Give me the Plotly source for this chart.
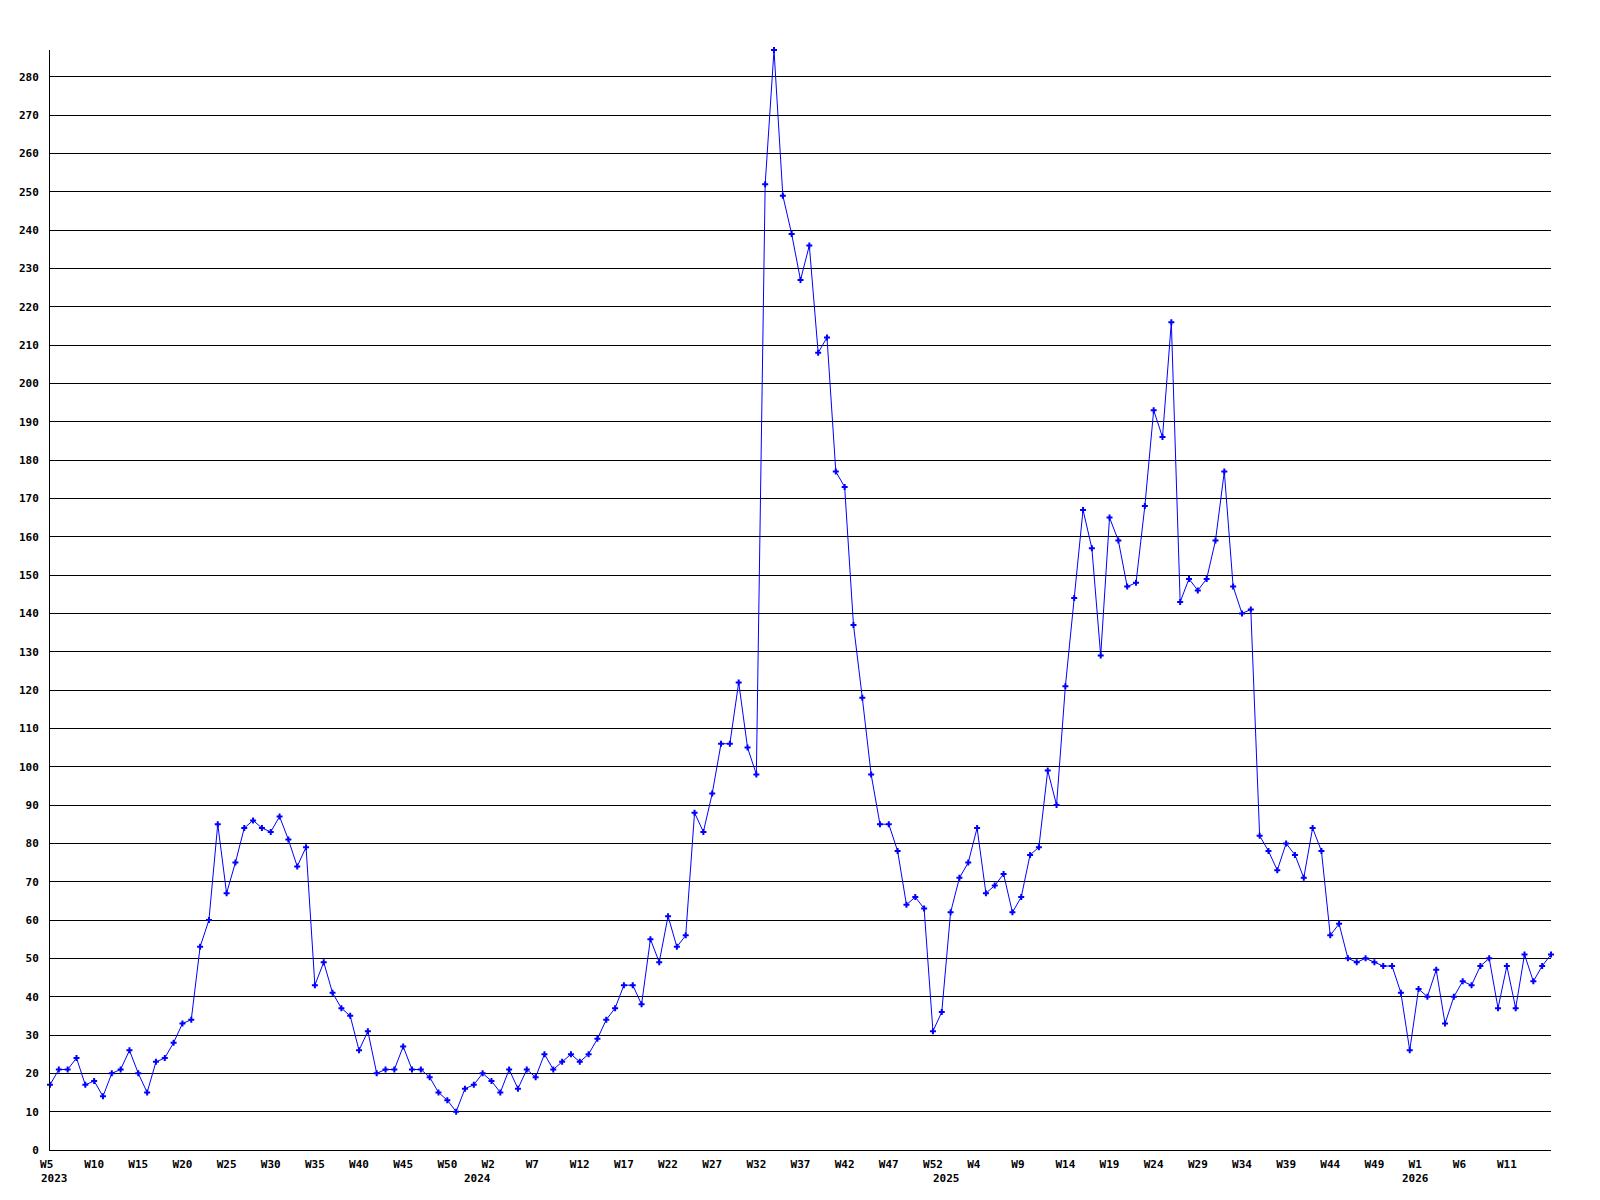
import plotly.graph_objects as go

# Weekly values, 2023 W5 .. 2026 W16 (171 points)
values_2023 = [17, 21, 21, 24, 17, 18, 14, 20, 21, 26, 20, 15, 23, 24, 28, 33, 34, 53, 60, 85,
               67, 75, 84, 86, 84, 83, 87, 81, 74, 79, 43, 49, 41, 37, 35, 26, 31, 20, 21, 21,
               27, 21, 21, 19, 15, 13, 10, 16, 17, 20]
values_2024 = [18, 15, 21, 16, 21, 19, 25, 21, 23, 25, 23, 25, 29, 34, 37, 43, 43, 38, 55, 49,
               61, 53, 56, 88, 83, 93, 106, 106, 122, 105, 98, 252, 287, 249, 239, 227, 236, 208, 212, 177,
               173, 137, 118, 98, 85, 85, 78, 64, 66, 63, 31, 36, 62, 71, 75]
values_2025 = [84, 67, 69, 72, 62, 66, 77, 79, 99, 90, 121, 144, 167, 157, 129, 165, 159, 147, 148, 168,
               193, 186, 216, 143, 149, 146, 149, 159, 177, 147, 140, 141, 82, 78, 73, 80, 77, 71, 84, 78,
               56, 59, 50, 49, 50, 49, 48, 48, 41, 26, 42, 40, 47, 33, 40, 44, 43, 48, 50, 37,
               48, 37, 51, 44, 48, 51]
values = values_2023 + values_2024 + values_2025

tick_index = list(range(0, 170, 5))
tick_labels = ["W5", "W10", "W15", "W20", "W25", "W30", "W35", "W40", "W45", "W50",
               "W2", "W7", "W12", "W17", "W22", "W27", "W32", "W37", "W42", "W47",
               "W52", "W4", "W9", "W14", "W19", "W24", "W29", "W34", "W39", "W44",
               "W49", "W1", "W6", "W11"]

year_labels = ["2023", "2024", "2025", "2026"]
year_pos = [0, 47.9, 101.05, 154.1]

x = list(range(len(values)))

font = dict(family="DejaVu Sans Mono", size=11, color="black", weight="bold")

# labels in the reference start ~10px left of their tick: pad short ones so centring matches
padded = [t + "\u00a0" * (3 - len(t)) for t in tick_labels]

fig = go.Figure()
fig.add_trace(go.Scatter(
    x=x, y=values, mode="lines+markers",
    line=dict(color="#0000ff", width=1),
    marker=dict(symbol="cross", size=5, color="#0000ff", line=dict(width=0)),
    cliponaxis=False, showlegend=False,
))

for yl, yp in zip(year_labels, year_pos):
    fig.add_annotation(
        x=yp, xref="x", y=0, yref="paper",
        text=yl, showarrow=False, font=font,
        xanchor="left", yanchor="top", xshift=-11, yshift=-20,
    )

# page body has an 8px default margin; compensate so the plot area sits at x 50-1551, y 50-1150
fig.update_layout(
    width=1584, height=1184,
    paper_bgcolor="white", plot_bgcolor="white",
    margin=dict(l=42, r=41, t=42, b=42),
    font=font,
)
fig.update_xaxes(
    range=[0, 170], showgrid=False, zeroline=False, automargin=False,
    showline=True, linecolor="black", linewidth=1,
    tickmode="array", tickvals=tick_index, ticktext=padded,
    tickfont=font, ticks="", ticklabelstandoff=4,
)
fig.update_yaxes(
    range=[0, 287], dtick=10, tick0=0, automargin=False,
    showgrid=True, gridcolor="black", gridwidth=1,
    zeroline=False, showline=True, linecolor="black", linewidth=1,
    tickfont=font, ticks="", ticklabelstandoff=8,
)

fig.write_html("out.html")
